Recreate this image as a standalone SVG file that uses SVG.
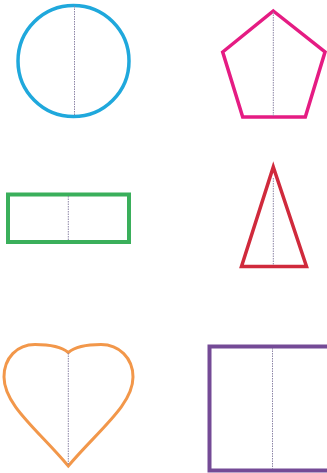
<svg xmlns="http://www.w3.org/2000/svg" width="327" height="473" viewBox="0 0 327 473">
<style>
.s{fill:none;stroke-linejoin:miter}
.axis{stroke:#8d85a6;stroke-width:1;stroke-dasharray:1.5 1;fill:none}
</style>
<rect width="327" height="473" fill="#ffffff"/>
<g id="circle">
<circle class="s" cx="73.5" cy="61" r="55.5" stroke="#1fa8dc" stroke-width="3.5"/>
<line class="axis" x1="74.5" y1="6" x2="74.5" y2="116"/>
</g>
<g id="pentagon">
<polygon class="s" points="273.3,11 325,52 305.3,117 242.7,117 222.7,52" stroke="#e51c83" stroke-width="3.5"/>
<line class="axis" x1="273.3" y1="12" x2="273.3" y2="116"/>
</g>
<g id="rectangle">
<rect class="s" x="8" y="194.5" width="121" height="47.5" stroke="#3aaf5b" stroke-width="4"/>
<line class="axis" x1="68.3" y1="196" x2="68.3" y2="241"/>
</g>
<g id="triangle">
<polygon class="s" points="273.3,167 306.5,266.5 241.5,266.5" stroke="#d02a3c" stroke-width="3.5"/>
<line class="axis" x1="273.3" y1="178" x2="273.3" y2="265"/>
</g>
<g id="heart">
<path class="s" d="M68.3,352.5 C60,345.5 47,344.5 35,344.5 C17,344.5 4,358 4,377 C4,405 38,430 68.3,466 C98.6,430 133,405 133,377 C133,358 119,344.5 101,344.5 C89,344.5 76.5,345.5 68.3,352.5 Z" stroke="#f2974a" stroke-width="3"/>
<line class="axis" x1="68.3" y1="353" x2="68.3" y2="465"/>
</g>
<g id="square">
<rect class="s" x="209.5" y="346.5" width="130" height="124" stroke="#744a96" stroke-width="4"/>
<line class="axis" x1="272.5" y1="348" x2="272.5" y2="469"/>
</g>
</svg>
